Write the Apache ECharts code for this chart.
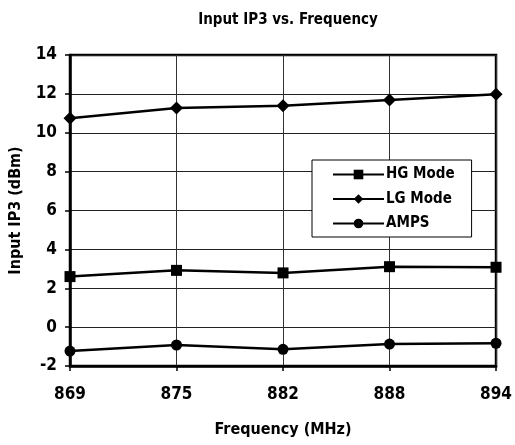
<!DOCTYPE html>
<html><head><meta charset="utf-8">
<script src="https://cdn.jsdelivr.net/npm/echarts@6/dist/echarts.min.js"></script>
<style>html,body{margin:0;padding:0;background:#fff}#c{width:515px;height:445px}</style>
</head><body><div id="c"></div>
<script>
var categories = ['869', '875', '882', '888', '894'];
var hgMode = [2.60, 2.92, 2.79, 3.11, 3.08];
var lgMode = [10.74, 11.27, 11.39, 11.69, 11.98];
var amps = [-1.23, -0.92, -1.14, -0.87, -0.83];
var FONT = "'Liberation Sans Narrow','Arial Narrow','DejaVu Sans Condensed',sans-serif";
var chart = echarts.init(document.getElementById('c'));
function ser(name, data, sym, size) {
  return {name: name, type: 'line', data: data, symbol: sym, symbolSize: size,
    showSymbol: true, lineStyle: {color: '#000', width: 2.5}, itemStyle: {color: '#000'},
    animation: false};
}
chart.setOption({
  animation: false,
  title: {text: 'Input IP3 vs. Frequency', left: 283, top: 8, textAlign: 'center',
    textStyle: {fontFamily: FONT, fontWeight: 'bold', fontSize: 15, color: '#000'}},
  grid: {left: 65, right: 15, top: 55, bottom: 79, show: true, borderColor: '#000', borderWidth: 2.5, backgroundColor: 'transparent'},
  legend: {orient: 'vertical', left: 312, top: 160, backgroundColor: '#fff', borderColor: '#000', borderWidth: 1,
    padding: [7, 17, 6, 20], itemWidth: 51, itemHeight: 12, itemGap: 9.5,
    textStyle: {fontFamily: FONT, fontWeight: 'bold', fontSize: 15, color: '#000', padding: [0,0,0,-3]},
    data: ['HG Mode', 'LG Mode', 'AMPS']},
  xAxis: {type: 'category', data: categories, boundaryGap: false,
    name: 'Frequency (MHz)', nameLocation: 'middle', nameGap: 56,
    nameTextStyle: {fontFamily: FONT, fontWeight: 'bold', fontSize: 16, color: '#000'},
    axisLine: {onZero: false, lineStyle: {color: '#000', width: 2.5}},
    axisTick: {show: true, inside: false, length: 5, lineStyle: {color: '#000', width: 1.5}},
    axisLabel: {margin: 20, fontFamily: FONT, fontWeight: 'bold', fontSize: 17, color: '#000'},
    splitLine: {show: true, lineStyle: {color: '#333', width: 1}}},
  yAxis: {type: 'value', min: -2, max: 14, interval: 2,
    name: 'Input IP3 (dBm)', nameLocation: 'middle', nameGap: 46,
    nameTextStyle: {fontFamily: FONT, fontWeight: 'bold', fontSize: 16, color: '#000'},
    axisLine: {show: true, lineStyle: {color: '#000', width: 2.5}},
    axisTick: {show: true, inside: false, length: 5, lineStyle: {color: '#000', width: 1.5}},
    axisLabel: {margin: 13, fontFamily: FONT, fontWeight: 'bold', fontSize: 17, color: '#000'},
    splitLine: {show: true, lineStyle: {color: '#222', width: 1}}},
  series: [
    ser('HG Mode', hgMode, 'rect', 11),
    ser('LG Mode', lgMode, 'diamond', 13),
    ser('AMPS', amps, 'circle', 11)
  ]
});
</script></body></html>
